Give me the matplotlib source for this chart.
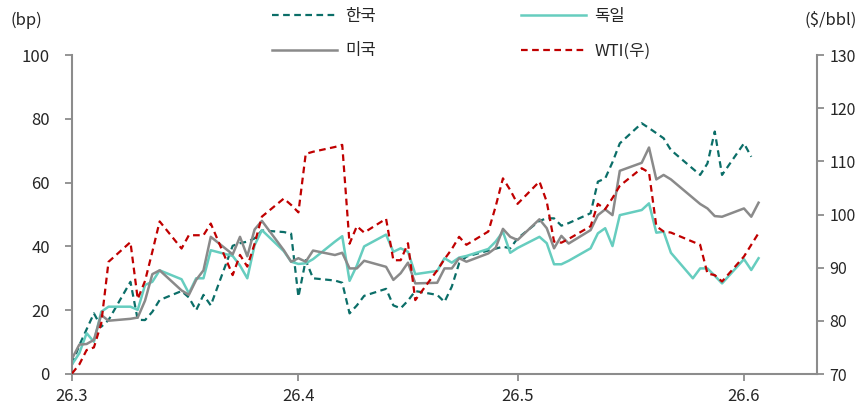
import numpy as np
import pandas as pd
import matplotlib
matplotlib.use("Agg")
import matplotlib.pyplot as plt

plt.rcParams['font.family'] = ['Noto Sans CJK KR', 'DejaVu Sans']

# first obs + business days (May 25 kept: only Germany has a value there)
dates = pd.DatetimeIndex(['2026-03-01']).append(pd.bdate_range('2026-03-02', '2026-06-03'))

nan = np.nan
korea = [3.0, 9.0, 14.0, 19.0, 14.8, 16.9, 28.9, 17.0, 16.9, 19.5, 23.2, 26.0, 24.0, 20.0, 24.8, 21.5,
         40.2, 41.0, 41.5, 42.5, 45.0, 44.5, 44.0,
         24.2, 35.7, 30.0, 29.3, 28.6, 19.0, 21.5, 24.5, 26.7, 21.5, 20.6, 23.0, 26.0, 24.8, 22.6, 27.4,
         34.7, 36.8, 38.7, 39.3, 39.9, 39.4,
         42.5, 48.0, 48.8, 48.8, 46.5, 47.3, 50.4, 60.3, 61.3, 66.4, 72.3, 78.6, 77.1, 75.5, 73.9, 70.2,
         nan, 62.4, 66.0, 76.0, 62.4,
         72.3, 68.1, nan]
germany = [3.0, 6.5, 12.8, 10.1, 19.5, 21.1, 21.1, 20.1, 27.9, 28.9, 32.5, 29.7, 25.3, 30.0, 30.0, 38.8,
           37.0, 34.0, 30.0, 40.4, 45.1, 38.5, 35.2,
           34.5, 34.7, 36.0, 41.5, 43.2, 29.2, 34.0, 40.0, 43.7, 38.3, 39.4, 38.3, 31.3, 32.3, 36.3, 34.9,
           36.5, 37.0, 39.2, 41.5, 44.6, 38.0,
           39.5, 43.0, 41.0, 34.4, 34.4, 35.5, 39.4, 44.1, 45.7, 40.1, 49.8, 51.4, 53.5, 44.3, 44.6, 38.0,
           30.0, 33.1, 33.1, 30.8, 28.4,
           36.0, 32.6, 36.3]
usa = [4.8, 9.2, 9.4, 10.7, 18.5, 16.7, 17.3, 17.7, 23.0, 31.3, 32.5, 26.2, 24.8, 29.5, 32.5, 43.0,
       37.5, 43.0, 36.9, 45.3, 48.0, 38.8, 35.2,
       36.3, 35.2, 38.7, 37.3, 38.0, 33.1, 33.1, 35.5, 33.6, 29.5, 31.6, 34.9, 28.4, 28.6, 33.1, 33.1,
       36.3, 35.2, 37.8, 39.5, 45.5, 43.0,
       42.0, 48.5, 45.7, 39.4, 43.3, 40.9, 45.1, 49.8, 51.6, 49.8, 63.7, 66.2, 71.0, 61.0, 62.4, 61.0,
       nan, 53.3, 51.9, 49.5, 49.3,
       51.9, 49.3, 53.7]
wti = [70.1, 71.8, 74.5, 75.0, 79.5, 91.1, 94.8, 84.1, 87.5, 93.0, 98.7, 93.6, 96.1, 96.1, 96.1, 98.3,
       88.6, 92.4, 90.2, 94.5, 99.6, 103.0, 101.8,
       100.4, 111.4, 111.8, 112.7, 113.1, 94.5, 97.8, 96.6, 99.2, 91.4, 91.4, 94.6, 83.9, 89.5, 91.6, 93.5,
       95.8, 94.3, 96.8, 101.5, 106.8, 104.6,
       102.0, 106.2, 102.4, 94.9, 94.7, 95.4, 97.8, 102.0, 101.0, 103.1, 105.4, 108.7, 107.9, 97.8, 96.8, 96.6,
       nan, 94.3, 88.9, 88.6, 87.4,
       92.1, 94.3, 96.5]

month_ticks = pd.to_datetime(['2026-03-01', '2026-04-01', '2026-05-01', '2026-06-01'])
month_labels = ['26.3', '26.4', '26.5', '26.6']

grey = '#8C8C8C'
txt = '#262626'

fig = plt.figure(figsize=(8.6, 4.08), dpi=100)
ax = fig.add_axes([72 / 860, 1 - 374 / 408, (817 - 72) / 860, (374 - 55) / 408])
ax2 = ax.twinx()


def draw(axis, vals, **kw):
    v = np.array(vals, dtype=float)
    m = ~np.isnan(v)
    return axis.plot(dates[m], v[m], **kw)[0]


h_kr = draw(ax, korea, color='#0B6E68', lw=1.6, dashes=(3, 2), label='한국')
h_de = draw(ax, germany, color='#66CDBF', lw=1.8, label='독일')
h_us = draw(ax, usa, color='#8A8A8A', lw=1.8, label='미국')
h_wti = draw(ax2, wti, color='#C00000', lw=1.6, dashes=(3, 2), label='WTI(우)')

ax.set_xlim(pd.Timestamp('2026-03-01'), pd.Timestamp('2026-06-11'))
ax.set_ylim(0, 100)
ax.set_yticks(range(0, 101, 20))
ax2.set_ylim(70, 130)
ax2.set_yticks(range(70, 131, 10))
ax.set_xticks(month_ticks)
ax.set_xticklabels(month_labels)

ax.spines['top'].set_visible(False)
ax2.spines['top'].set_visible(False)
ax2.spines['left'].set_visible(False)
ax2.spines['bottom'].set_visible(False)
ax.spines['right'].set_visible(False)
for sp in [ax.spines['left'], ax.spines['bottom'], ax2.spines['right']]:
    sp.set_color(grey)
    sp.set_linewidth(1.5)

ax.tick_params(axis='y', direction='out', length=5, width=1.3, color=grey,
               labelsize=12, labelcolor=txt, pad=11)
ax.tick_params(axis='x', direction='out', length=5, width=1.3, color=grey,
               labelsize=12, labelcolor=txt, pad=5)
ax2.tick_params(axis='y', direction='out', length=5, width=1.3, color=grey,
                labelsize=11.5, labelcolor=txt, pad=4)

fig.text(10 / 860, 1 - 20 / 408, '(bp)', fontsize=12, color=txt, va='center', ha='left')
fig.text(857 / 860, 1 - 20 / 408, '($/bbl)', fontsize=12, color=txt, va='center', ha='right')

fig.legend([h_kr, h_us, h_de, h_wti], ['한국', '미국', '독일', 'WTI(우)'],
           ncol=2, loc='upper left', bbox_to_anchor=(272 / 860, 1 - 8 / 408),
           frameon=False, fontsize=12, handlelength=3.9, handletextpad=0.5,
           columnspacing=8.7, labelspacing=1.05, borderpad=0, borderaxespad=0,
           labelcolor=txt)

fig.savefig('out.png', dpi=100)
